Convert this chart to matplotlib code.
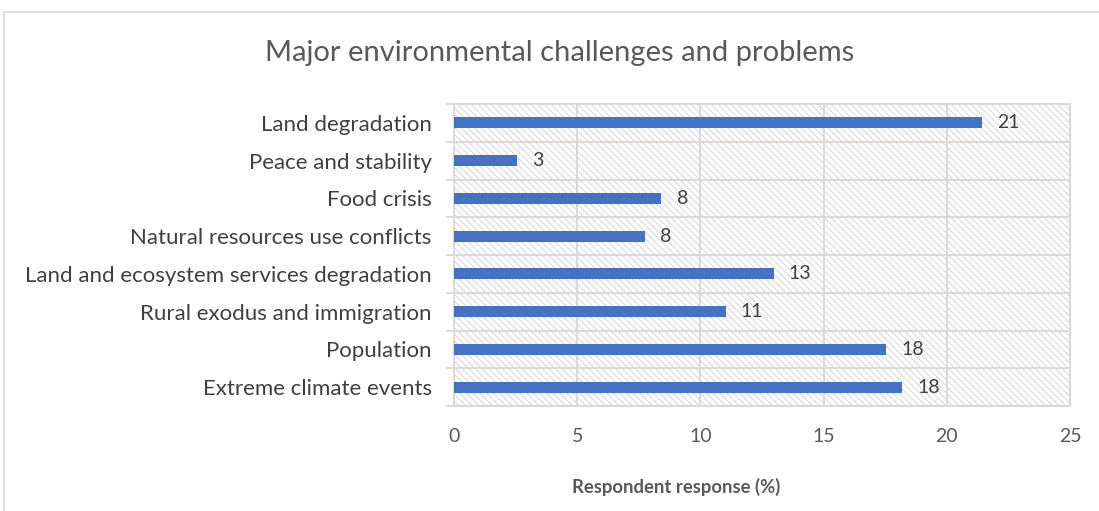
import matplotlib.pyplot as plt
from matplotlib.patches import Rectangle
from matplotlib.lines import Line2D
import numpy as np

plt.rcParams['font.family'] = ['Lato', 'DejaVu Sans']
plt.rcParams['hatch.linewidth'] = 0.6

# data, top to bottom as shown
categories = ['Land degradation', 'Peace and stability', 'Food crisis',
              'Natural resources use conflicts', 'Land and ecosystem services degradation',
              'Rural exodus and immigration', 'Population', 'Extreme climate events']
values = [21.42, 2.56, 8.41, 7.76, 12.97, 11.02, 17.52, 18.17]
labels = ['21', '3', '8', '8', '13', '11', '18', '18']
xticks = [0, 5, 10, 15, 20, 25]

bar_color = '#4472C4'
grid_color = '#D9D9D9'
text_color = '#595959'

fig = plt.figure(figsize=(10.99, 5.11), dpi=100)
ax = fig.add_axes([454 / 1099, 1 - 406 / 511, (1070 - 454) / 1099, (406 - 104) / 511])

# hatched plot area background
bg = Rectangle((0, 0), 1, 1, transform=ax.transAxes, facecolor='white',
               edgecolor='#D0D0D0', hatch='\\\\\\\\\\', linewidth=0, zorder=0)
ax.add_patch(bg)

y = np.arange(len(categories))
bars = ax.barh(y, values, height=0.29, color=bar_color, zorder=3)

for yi, v, lab in zip(y, values, labels):
    ax.annotate(lab, xy=(v, yi), xytext=(11, 0), textcoords='offset points',
                ha='left', va='center', fontsize=14, color='#404040', zorder=4)

ax.set_xlim(0, 25)
ax.set_ylim(len(categories) - 0.5, -0.5)
ax.set_xticks(xticks)
ax.set_yticks(y)
ax.set_yticklabels(categories)
ax.set_yticks(np.arange(len(categories) + 1) - 0.5, minor=True)

ax.tick_params(axis='x', length=0, pad=16, labelsize=14, labelcolor=text_color)
ax.tick_params(axis='y', which='major', length=0, pad=16, labelsize=16, labelcolor='#404040')
ax.tick_params(axis='y', which='minor', length=6, width=1.3, color=grid_color)

ax.grid(axis='x', which='major', color=grid_color, linewidth=1.4, zorder=1)
ax.grid(axis='y', which='minor', color=grid_color, linewidth=1.4, zorder=1)
ax.set_axisbelow(True)
for s in ax.spines.values():
    s.set_color(grid_color)
    s.set_linewidth(1.4)

fig.text(560 / 1099, 1 - 53 / 511, 'Major environmental challenges and problems',
         ha='center', va='center', fontsize=21, color=text_color)
fig.text(676 / 1099, 1 - 487 / 511, 'Respondent response (%)',
         ha='center', va='center', fontsize=13.3, fontweight='bold', color=text_color)

# chart area border (top and left)
fig.add_artist(Line2D([4 / 1099, 1], [1 - 12 / 511, 1 - 12 / 511], transform=fig.transFigure,
                      color=grid_color, linewidth=1.2))
fig.add_artist(Line2D([4 / 1099, 4 / 1099], [0, 1 - 12 / 511], transform=fig.transFigure,
                      color=grid_color, linewidth=1.2))

fig.savefig('out.png', dpi=100, facecolor='white')
